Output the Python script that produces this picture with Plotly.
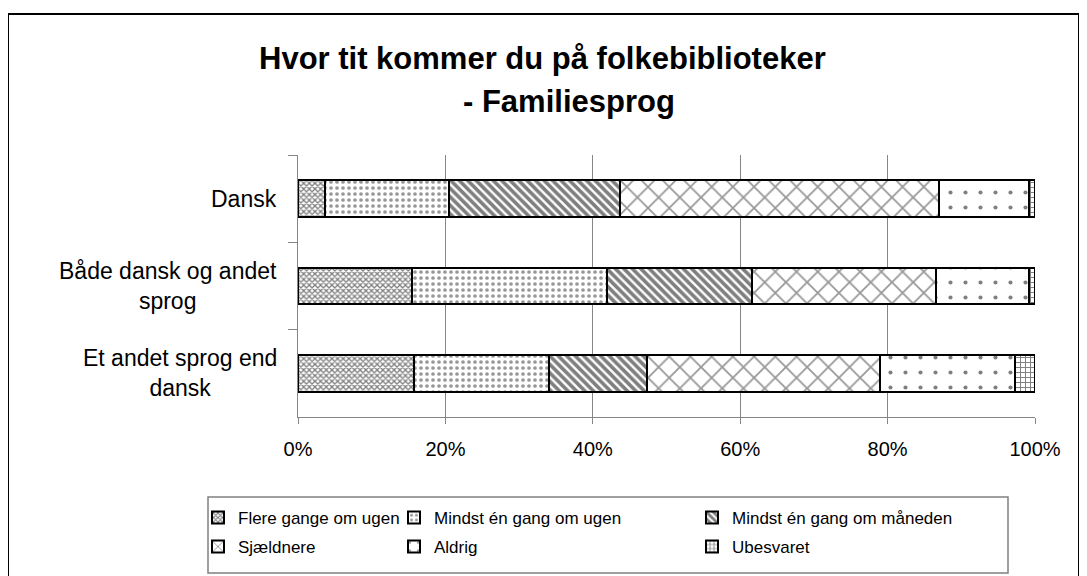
import plotly.graph_objects as go

# ---------------- data ----------------
categories = ["Dansk", "Både dansk og andet sprog", "Et andet sprog end dansk"]
category_labels = ["Dansk", "Både dansk og andet<br>sprog", "Et andet sprog end<br>dansk"]

series_names = [
    "Flere gange om ugen",
    "Mindst én gang om ugen",
    "Mindst én gang om måneden",
    "Sjældnere",
    "Aldrig",
    "Ubesvaret",
]
flere_gange = [3.7, 15.5, 15.7]
mindst_uge = [16.8, 26.4, 18.4]
mindst_maaned = [23.2, 19.7, 13.3]
sjaeldnere = [43.3, 25.0, 31.6]
aldrig = [12.2, 12.6, 18.3]
ubesvaret = [0.8, 0.8, 2.7]
x_tick_values = [0, 20, 40, 60, 80, 100]
x_tick_labels = ["0%", "20%", "40%", "60%", "80%", "100%"]
title_lines = ["Hvor tit kommer du på folkebiblioteker", "- Familiesprog"]

series_values = [flere_gange, mindst_uge, mindst_maaned, sjaeldnere, aldrig, ubesvaret]

# ---------------- styles ----------------
FONT = "Liberation Sans, Arial, sans-serif"
patterns = [
    dict(shape="x", size=4, solidity=0.55, fgcolor="#000000"),
    dict(shape=".", size=6, solidity=0.3, fgcolor="#303030"),
    dict(shape="\\", size=6, solidity=0.6, fgcolor="#000000"),
    dict(shape="x", size=15, solidity=0.22, fgcolor="#303030"),
    dict(shape=".", size=15, solidity=0.06, fgcolor="#000000"),
    dict(shape="+", size=5, solidity=0.35, fgcolor="#000000"),
]
legend_ids = ["legend", "legend2", "legend3", "legend4", "legend5", "legend6"]

# figure is placed 8px into the page (body margin); plot area 290..1027 x 147..409 in fig px
PL, PR, PT, PB = 290, 1027, 147, 409
PW, PH = PR - PL, PB - PT


def px_x(page_x):
    return (page_x - 8 - PL) / PW


def px_y(page_y):
    return (PB - (page_y - 8)) / PH


legend_pos = [
    (px_x(198), px_y(518)),
    (px_x(394), px_y(518)),
    (px_x(692), px_y(518)),
    (px_x(198), px_y(547)),
    (px_x(394), px_y(547)),
    (px_x(692), px_y(547)),
]

fig = go.Figure()
for name, vals, pat, lid in zip(series_names, series_values, patterns, legend_ids):
    fig.add_trace(go.Bar(
        name=name,
        y=categories,
        x=vals,
        orientation="h",
        marker=dict(color="white", line=dict(color="black", width=2), pattern=pat),
        legend=lid,
        hoverinfo="x+name",
    ))

layout_legends = {}
for lid, (lx, ly) in zip(legend_ids, legend_pos):
    layout_legends[lid] = dict(
        x=lx, y=ly, xanchor="left", yanchor="middle",
        xref="paper", yref="paper",
        font=dict(family=FONT, size=17, color="black"),
        bgcolor="rgba(0,0,0,0)", borderwidth=0,
        itemwidth=30,
    )

annotations = []
for cat, lab in zip(categories, category_labels):
    annotations.append(dict(
        x=px_x(279), xref="paper", y=cat, yref="y",
        text=lab, showarrow=False, xanchor="right", yanchor="middle",
        align="center", font=dict(family=FONT, size=23, color="black"),
    ))
annotations.append(dict(
    x=px_x(542), y=px_y(58), xref="paper", yref="paper", text="<b>%s</b>" % title_lines[0],
    showarrow=False, xanchor="center", yanchor="middle",
    font=dict(family=FONT, size=31, color="black"),
))
annotations.append(dict(
    x=px_x(569), y=px_y(101), xref="paper", yref="paper", text="<b>%s</b>" % title_lines[1],
    showarrow=False, xanchor="center", yanchor="middle",
    font=dict(family=FONT, size=31, color="black"),
))

shapes = [
    # outer frame
    dict(type="rect", xref="paper", yref="paper", x0=px_x(8), x1=px_x(1079), y0=px_y(590), y1=px_y(14),
         line=dict(color="black", width=2), fillcolor="rgba(0,0,0,0)", layer="below"),
    # legend box
    dict(type="rect", xref="paper", yref="paper", x0=px_x(208), x1=px_x(1008), y0=px_y(573), y1=px_y(497),
         line=dict(color="#808080", width=1.5), fillcolor="rgba(0,0,0,0)", layer="below"),
]

fig.update_layout(
    barmode="stack",
    bargap=0.58,
    width=1087, height=576,
    margin=dict(l=PL, r=1087 - PR, t=PT, b=576 - PB, pad=0),
    paper_bgcolor="white", plot_bgcolor="white",
    font=dict(family=FONT, color="black"),
    annotations=annotations,
    shapes=shapes,
    showlegend=True,
    **layout_legends,
)
fig.update_xaxes(
    range=[0, 100], tickmode="array", tickvals=x_tick_values, ticktext=x_tick_labels,
    showgrid=True, gridcolor="#868686", gridwidth=1,
    showline=True, linecolor="#868686", linewidth=1,
    ticks="outside", ticklen=6, tickcolor="#868686",
    ticklabelstandoff=8,
    tickfont=dict(family=FONT, size=20, color="black"),
    zeroline=False, fixedrange=True,
)
fig.update_yaxes(
    categoryorder="array", categoryarray=categories, autorange="reversed",
    showticklabels=False, showgrid=False,
    showline=True, linecolor="#868686", linewidth=1,
    ticks="outside", ticklen=9, tickcolor="#868686", tickson="boundaries",
    zeroline=False, fixedrange=True,
)

fig.write_html("out.html")
